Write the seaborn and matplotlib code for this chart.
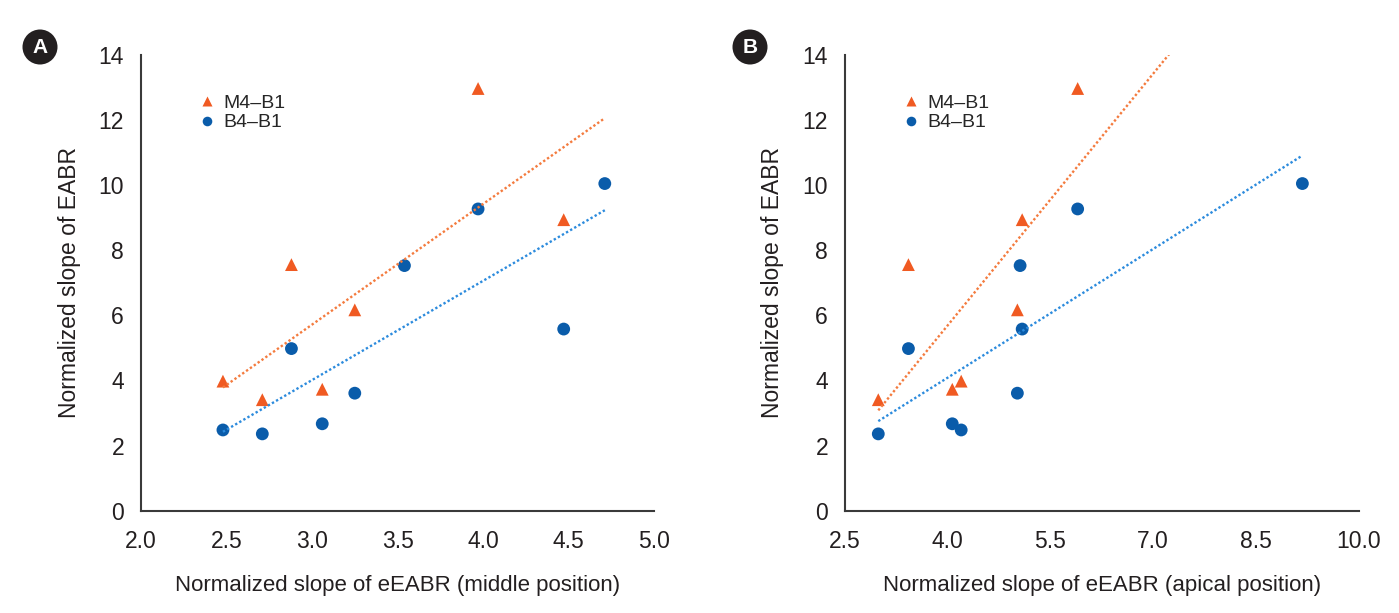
import numpy as np
import pandas as pd
import matplotlib
matplotlib.use("Agg")
import matplotlib.pyplot as plt
from matplotlib.patches import Ellipse
import seaborn as sns

# ---- data ----
series_names = ["M4\u2013B1", "B4\u2013B1"]
middle_x = [2.48, 2.71, 2.88, 3.06, 3.25, 3.54, 3.97, 4.47, 4.71]
apical_x = [4.20, 2.99, 3.43, 4.07, 5.02, 5.06, 5.90, 5.09, 9.18]
m4_b1 = [3.98, 3.41, 7.56, 3.73, 6.17, np.nan, 12.97, 8.94, np.nan]
b4_b1 = [2.48, 2.36, 4.98, 2.67, 3.61, 7.53, 9.27, 5.58, 10.05]

x_ticks_a = [2.0, 2.5, 3.0, 3.5, 4.0, 4.5, 5.0]
x_ticks_b = [2.5, 4.0, 5.5, 7.0, 8.5, 10.0]
y_ticks = [0, 2, 4, 6, 8, 10, 12, 14]
x_labels = ["Normalized slope of eEABR (middle position)",
            "Normalized slope of eEABR (apical position)"]
y_label = "Normalized slope of EABR"
panel_letters = ["A", "B"]

sns.set_style("white")
plt.rcParams["font.family"] = ["Liberation Sans", "DejaVu Sans"]

marker_colors = {series_names[0]: "#F05A22", series_names[1]: "#0A5CAA"}
line_colors = {series_names[0]: "#F47B3E", series_names[1]: "#2C8BDD"}
markers = {series_names[0]: "^", series_names[1]: "o"}

fig = plt.figure(figsize=(13.99, 6.13), dpi=100)
ax_a = fig.add_axes([0.1006, 0.1669, 0.3672, 0.7434])
ax_b = fig.add_axes([0.6038, 0.1669, 0.3673, 0.7434])

for ax, xs, xt, xl in [(ax_a, middle_x, x_ticks_a, x_labels[0]),
                       (ax_b, apical_x, x_ticks_b, x_labels[1])]:
    df = pd.DataFrame({
        "x": list(xs) + list(xs),
        "y": list(m4_b1) + list(b4_b1),
        "series": [series_names[0]] * len(xs) + [series_names[1]] * len(xs),
    }).dropna()
    sns.scatterplot(data=df, x="x", y="y", hue="series", style="series",
                    hue_order=series_names, style_order=series_names,
                    palette=marker_colors, markers=markers, s=85,
                    edgecolor="none", ax=ax, zorder=3)
    # linear trend lines over the panel's x range
    xr = np.array([min(xs), max(xs)])
    for name in series_names:
        sub = df[df["series"] == name]
        k, b = np.polyfit(sub["x"], sub["y"], 1)
        ax.plot(xr, k * xr + b, color=line_colors[name], linestyle=(0, (1, 1)),
                linewidth=1.7, zorder=4)

    ax.set_xlim(xt[0], xt[-1])
    ax.set_ylim(0, 14)
    ax.set_xticks(xt)
    ax.set_xticklabels([f"{v:.1f}" for v in xt])
    ax.set_yticks(y_ticks)
    ax.set_yticklabels([str(v) for v in y_ticks])
    for s in ["top", "right"]:
        ax.spines[s].set_visible(False)
    for s in ["left", "bottom"]:
        ax.spines[s].set_color("#3a3a3a")
        ax.spines[s].set_linewidth(1.5)
    ax.tick_params(axis="both", direction="in", length=6, width=1.3,
                   color="#3a3a3a", labelsize=16.5, labelcolor="#231f20")
    ax.tick_params(axis="y", pad=12)
    ax.tick_params(axis="x", pad=14)
    ax.set_xlabel(xl, fontsize=16, color="#231f20", labelpad=16)
    ax.set_ylabel(y_label, fontsize=16.5, color="#231f20", labelpad=13)

    sns.move_legend(ax, "upper left", bbox_to_anchor=(0.111, 0.914), frameon=False,
                    title=None, fontsize=14, handletextpad=0.3, handlelength=1.0,
                    labelspacing=0.1, borderaxespad=0, borderpad=0,
                    markerscale=0.75)

W, H = 1399, 613
for cx, letter in [(40, "A"), (750, "B")]:
    cy = 47
    fig.patches.append(Ellipse((cx / W, 1 - cy / H), 35 / W, 35 / H,
                               transform=fig.transFigure, fc="#231f20",
                               ec="none", zorder=5))
    fig.text(cx / W, 1 - (cy + 0.5) / H, letter, color="white", fontsize=15,
             fontweight="bold", ha="center", va="center", zorder=6)

fig.savefig("out.png", dpi=100)
